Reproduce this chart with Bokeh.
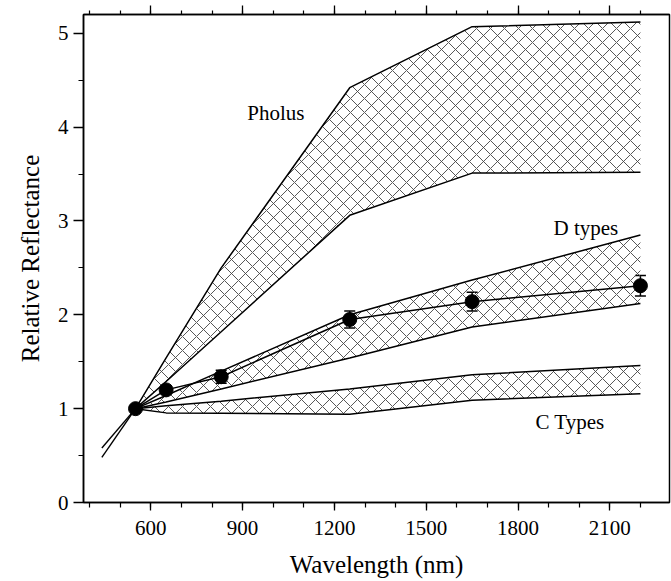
import numpy as np
from bokeh.plotting import figure
from bokeh.models import (Range1d, LinearAxis, FixedTicker, ColumnDataSource,
                          Whisker, TeeHead, Label)
from bokeh.embed import file_html
from bokeh.resources import INLINE

# ---------------- data ----------------
wavelength = [550, 650, 830, 1250, 1650, 2200]

pholus_upper = [1.00, 1.54, 2.50, 4.42, 5.07, 5.12]
pholus_lower = [1.00, 1.29, 1.82, 3.06, 3.51, 3.52]

d_upper = [1.00, 1.14, 1.40, 2.00, 2.37, 2.85]
d_lower = [1.00, 1.07, 1.21, 1.54, 1.87, 2.12]

c_upper = [1.00, 1.03, 1.08, 1.21, 1.36, 1.46]
c_lower = [1.00, 0.955, 0.95, 0.94, 1.09, 1.16]

ext_wavelength = [440, 550]
pholus_upper_ext = [0.48, 1.00]
pholus_lower_ext = [0.58, 1.00]

obs_refl = [1.00, 1.20, 1.34, 1.95, 2.14, 2.31]
obs_err = [0.00, 0.04, 0.07, 0.09, 0.10, 0.11]

x_major = [600, 900, 1200, 1500, 1800, 2100]
x_minor = list(range(400, 2201, 100))
y_major = [0, 1, 2, 3, 4, 5]
y_minor = [0.5 * i for i in range(0, 11)]

band_labels = ["Pholus", "D types", "C Types"]
label_x = [915, 1916, 1857]
label_y = [4.15, 2.93, 0.86]

FONT = "Liberation Serif"

# ---------------- figure ----------------
p = figure(width=671, height=581,
           x_range=Range1d(380, 2295), y_range=Range1d(0, 5.2),
           output_backend="svg", toolbar_location=None,
           min_border_left=83, min_border_right=2,
           min_border_top=14, min_border_bottom=79)
p.grid.visible = False
p.background_fill_color = "white"
p.border_fill_color = "white"
p.outline_line_color = "black"
p.outline_line_width = 1.5

xt = FixedTicker(ticks=x_major, minor_ticks=x_minor)
yt = FixedTicker(ticks=y_major, minor_ticks=y_minor)

xa = p.xaxis[0]
xa.ticker = xt
xa.axis_label = "Wavelength (nm)"
ya = p.yaxis[0]
ya.ticker = yt
ya.axis_label = "Relative Reflectance"

for ax in (xa, ya):
    ax.axis_line_width = 1.5
    ax.axis_line_color = "black"
    ax.major_tick_line_color = "black"
    ax.minor_tick_line_color = "black"
    ax.major_tick_line_width = 1.3
    ax.minor_tick_line_width = 1.2
    ax.major_tick_in = 0
    ax.minor_tick_in = 0
    ax.major_label_text_font = FONT
    ax.major_label_text_font_size = "21px"
    ax.major_label_text_color = "black"
    ax.axis_label_text_font = FONT
    ax.axis_label_text_font_size = "25px"
    ax.axis_label_text_font_style = "normal"
    ax.axis_label_text_color = "black"

xa.major_tick_out = 8
xa.minor_tick_out = 5
xa.major_label_standoff = 10
xa.axis_label_standoff = 13
ya.major_tick_out = 10
ya.minor_tick_out = 5
ya.major_label_standoff = 5
ya.axis_label_standoff = 11

top = LinearAxis(ticker=FixedTicker(ticks=x_major, minor_ticks=x_minor))
top.major_label_text_font_size = "0px"
top.major_label_text_alpha = 0
top.major_label_standoff = 0
top.major_tick_in = 0
top.minor_tick_in = 0
top.major_tick_out = 9
top.minor_tick_out = 4
top.axis_line_width = 1.5
top.major_tick_line_width = 1.3
top.minor_tick_line_width = 1.2
p.add_layout(top, "above")

# ---------------- hatched bands ----------------
bands = [(pholus_lower, pholus_upper), (d_lower, d_upper), (c_lower, c_upper)]
for lo, hi in bands:
    p.varea(x=wavelength, y1=lo, y2=hi, fill_color="white", fill_alpha=0.0,
            hatch_pattern="x", hatch_color="#444444", hatch_scale=14,
            hatch_weight=0.9, hatch_alpha=1.0)
    p.line(wavelength, lo, line_color="black", line_width=1.5)
    p.line(wavelength, hi, line_color="black", line_width=1.5)

p.line(ext_wavelength, pholus_upper_ext, line_color="black", line_width=1.4)
p.line(ext_wavelength, pholus_lower_ext, line_color="black", line_width=1.4)

# ---------------- observed points ----------------
obs = np.array(obs_refl)
err = np.array(obs_err)
src = ColumnDataSource(dict(x=wavelength, y=obs_refl,
                            upper=(obs + err).tolist(), lower=(obs - err).tolist()))
p.line("x", "y", source=src, line_color="black", line_width=1.5)
wh = Whisker(source=src, base="x", upper="upper", lower="lower",
             line_color="black", line_width=1.5,
             upper_head=TeeHead(size=11, line_width=1.5, line_color="black"),
             lower_head=TeeHead(size=11, line_width=1.5, line_color="black"))
p.add_layout(wh)
p.scatter("x", "y", source=src, size=14, marker="circle",
          fill_color="black", line_color="black")

for t, lx, ly in zip(band_labels, label_x, label_y):
    p.add_layout(Label(x=lx, y=ly, text=t, text_font=FONT, text_font_size="21px",
                       text_baseline="middle", text_align="left", text_color="black"))

open("out.html", "w").write(file_html(p, INLINE))
